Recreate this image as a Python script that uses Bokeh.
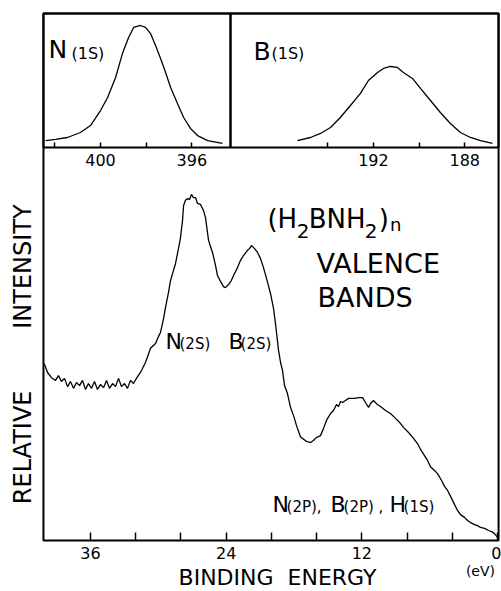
from bokeh.plotting import figure
from bokeh.models import Range1d, FixedTicker, Label, BoxAnnotation, LinearAxis
from bokeh.embed import file_html
from bokeh.resources import INLINE

FONT = "DejaVu Sans"

# ---- valence band spectrum (binding energy in eV, relative intensity) ----
vb_energy = [40.10, 39.80, 39.45, 39.10, 38.83, 38.57, 38.30, 38.03, 37.77, 37.50,
             37.24, 36.97, 36.71, 36.44, 36.18, 35.91, 35.65, 35.38, 35.12, 34.85,
             34.58, 34.32, 34.05, 33.79, 33.52, 33.26, 32.99, 32.73, 32.46, 32.20,
             31.84, 31.58, 31.14, 30.69, 30.25, 29.99, 29.81, 29.54, 29.37, 29.10,
             28.92, 28.66, 28.48, 28.22, 28.04, 27.86, 27.77, 27.60, 27.42, 27.24,
             27.07, 26.89, 26.71, 26.54, 26.27, 26.01, 25.83, 25.56, 25.39, 25.21,
             24.94, 24.77, 24.50, 24.24, 24.06, 23.79, 23.53, 23.35, 23.00, 22.73,
             22.47, 22.11, 21.94, 21.76, 21.49, 21.23, 20.96, 20.70, 20.43, 20.08,
             19.81, 19.64, 19.37, 19.19, 19.02, 18.84, 18.58, 18.31, 18.04, 17.78,
             17.43, 17.25, 16.90, 16.54, 16.28, 16.01, 15.83, 15.66, 15.39, 15.13,
             14.77, 14.51, 14.24, 14.06, 13.89, 13.71, 13.45, 13.18, 13.00, 12.65,
             12.30, 11.94, 11.68, 11.41, 11.23, 10.97, 10.62, 10.26, 9.91, 9.47,
             9.02, 8.58, 8.32, 7.87, 7.43, 7.08, 6.81, 6.46, 6.19, 5.93,
             5.57, 5.31, 4.95, 4.69, 4.42, 4.16, 3.80, 3.54, 3.27, 2.92,
             2.65, 2.39, 2.04, 1.77, 1.51, 1.15, 0.80, 0.53, 0.27, 0.00]
vb_intensity = [51.3, 48.7, 47.2, 46.4, 47.8, 46.1, 47.0, 44.6, 46.1, 44.1,
                45.8, 44.9, 46.4, 43.8, 45.5, 44.1, 46.1, 43.8, 45.2, 44.3,
                46.4, 44.1, 45.5, 44.6, 47.0, 44.6, 45.5, 44.1, 46.4, 45.5,
                47.5, 48.7, 51.6, 55.7, 57.1, 59.1, 60.3, 64.3, 67.5, 71.9,
                75.4, 78.3, 80.3, 84.6, 87.8, 92.8, 97.1, 98.6, 99.1, 98.8,
                100.3, 99.4, 99.4, 97.7, 97.4, 95.7, 93.6, 87.0, 85.2, 83.5,
                79.7, 76.8, 75.1, 73.6, 73.3, 74.2, 75.4, 76.8, 79.1, 81.2,
                82.6, 84.1, 84.6, 85.5, 84.6, 83.5, 81.7, 79.1, 75.9, 71.6,
                67.2, 62.9, 55.1, 51.6, 49.3, 44.9, 42.6, 38.6, 36.2, 33.3,
                30.1, 29.6, 28.7, 28.4, 29.0, 29.9, 30.1, 30.4, 32.5, 34.8,
                36.8, 37.7, 39.4, 38.8, 40.3, 40.0, 40.6, 41.2, 41.2, 41.2,
                41.4, 41.4, 40.0, 38.6, 39.7, 40.6, 39.4, 38.6, 37.7, 36.8,
                35.4, 33.9, 32.8, 31.3, 29.6, 28.1, 26.4, 24.6, 23.2, 21.4,
                20.3, 19.4, 17.4, 15.7, 14.5, 12.8, 10.4, 8.7, 7.5, 6.7,
                5.8, 5.2, 4.6, 4.3, 3.8, 3.5, 2.9, 2.6, 2.0, 0.9]

# ---- N(1s) core level ----
n1s_energy = [402.41, 401.97, 401.45, 400.88, 400.44, 400.00, 399.69, 399.34,
              399.04, 398.77, 398.55, 398.25, 398.03, 397.81, 397.59, 397.37,
              397.15, 396.93, 396.63, 396.36, 396.06, 395.75, 395.31, 394.66]
n1s_intensity = [5.7, 6.6, 8.2, 12.3, 18.0, 30.3, 41.0, 57.4, 77.0, 90.2, 98.4, 100.0,
                 98.4, 93.4, 83.6, 73.0, 61.5, 49.2, 36.1, 24.6, 15.6, 9.8, 5.7, 3.3]

# ---- B(1s) core level ----
b1s_energy = [195.33, 194.76, 194.32, 193.88, 193.45, 193.01, 192.57, 192.22,
              191.82, 191.56, 191.26, 190.95, 190.69, 190.29, 189.94, 189.50,
              189.07, 188.63, 188.19, 187.75, 187.31, 186.79]
b1s_intensity = [5.7, 8.2, 11.5, 16.4, 24.6, 34.4, 44.3, 54.9, 61.5, 64.8, 66.4,
                 65.6, 61.5, 56.6, 48.4, 38.5, 28.7, 19.7, 12.3, 8.2, 5.7, 3.3]

# ---- ticks ----
main_major_ticks = [36, 24, 12, 0]
main_minor_ticks = [32, 28, 20, 16, 8, 4]
n_ticks = [402, 400, 398, 396]
n_tick_labels = ["", "400", "", "396"]
b_ticks = [194, 192, 190, 188]
b_tick_labels = ["", "192", "", "188"]

# ---- panel extents (layout, in each panel's own units) ----
MAIN_BOX = dict(left=40.16, right=-0.09, bottom=0.0, top=152.75)
N_BOX = dict(left=402.50, right=394.31, bottom=0.0, top=109.84)
B_BOX = dict(left=198.26, right=186.52, bottom=0.0, top=109.84)

# ---- figure: the frame fills the whole canvas, everything drawn inside it ----
p = figure(width=501, height=591, output_backend="svg", toolbar_location=None,
           title=None,
           x_range=Range1d(43.96, -0.35), y_range=Range1d(-14.78, 156.52),
           min_border_left=0, min_border_right=0, min_border_top=0,
           min_border_bottom=0)
p.extra_x_ranges = {"N": Range1d(404.38, 382.44), "B": Range1d(208.34, 186.39)}
p.extra_y_ranges = {"inset": Range1d(-363.93, 120.49)}

p.background_fill_color = "white"
p.border_fill_color = "white"
p.outline_line_color = None
p.xgrid.visible = False
p.ygrid.visible = False
p.yaxis.visible = False

xa = p.xaxis[0]
xa.fixed_location = 0
xa.ticker = FixedTicker(ticks=main_major_ticks, minor_ticks=main_minor_ticks)
xa.axis_line_color = None
xa.major_tick_in = 8
xa.major_tick_out = 0
xa.minor_tick_in = 8
xa.minor_tick_out = 0
xa.major_tick_line_width = 1.5
xa.minor_tick_line_width = 1.5
xa.major_tick_line_color = "black"
xa.minor_tick_line_color = "black"
xa.major_label_text_font = FONT
xa.major_label_text_font_size = "16px"
xa.major_label_text_color = "black"
xa.major_label_standoff = 6

for rname, ticks, labels in (("N", n_ticks, n_tick_labels), ("B", b_ticks, b_tick_labels)):
    ax = LinearAxis(x_range_name=rname, y_range_name="inset", fixed_location=0,
                    ticker=FixedTicker(ticks=ticks, minor_ticks=[]),
                    major_label_overrides={t: s for t, s in zip(ticks, labels)},
                    major_tick_in=5, major_tick_out=0,
                    minor_tick_in=0, minor_tick_out=0,
                    axis_line_color=None,
                    major_tick_line_width=1.5, major_tick_line_color="black",
                    major_label_text_font=FONT, major_label_text_font_size="16px",
                    major_label_text_color="black", major_label_standoff=7)
    p.add_layout(ax, "below")

# panel boxes
p.add_layout(BoxAnnotation(**MAIN_BOX, fill_alpha=0, line_color="black",
                           line_width=2, line_alpha=1))
p.add_layout(BoxAnnotation(**N_BOX, x_range_name="N", y_range_name="inset",
                           fill_alpha=0, line_color="black", line_width=2, line_alpha=1))
p.add_layout(BoxAnnotation(**B_BOX, x_range_name="B", y_range_name="inset",
                           fill_alpha=0, line_color="black", line_width=2, line_alpha=1))

# ---- curves ----
p.line(vb_energy, vb_intensity, line_color="black", line_width=1.3)
p.line(n1s_energy, n1s_intensity, x_range_name="N", y_range_name="inset",
       line_color="black", line_width=1.3)
p.line(b1s_energy, b1s_intensity, x_range_name="B", y_range_name="inset",
       line_color="black", line_width=1.3)


def lab(x, y, text, size, align="left", angle=0):
    p.add_layout(Label(x=x, y=y, text=text, text_font=FONT, text_font_size=size,
                       text_color="black", text_align=align, text_baseline="middle",
                       angle=angle))


# core-level panel titles
lab(39.71, 142.18, "N", "25px")
lab(37.68, 141.28, "(1S)", "16px")
lab(21.58, 141.74, "B", "25px")
lab(19.99, 141.30, "(1S)", "16px")

# compound formula (H2BNH2)n built from normal and lowered pieces
lab(20.35, 93.33, "(H", "26px")
lab(17.75, 89.71, "2", "20px")
lab(16.70, 93.33, "BNH", "26px")
lab(11.75, 89.71, "2", "20px")
lab(10.50, 93.33, ")", "26px")
lab(9.52, 91.60, "n", "18px")

lab(16.01, 80.29, "VALENCE", "27px")
lab(15.92, 70.58, "BANDS", "27px")

# peak assignments
lab(29.37, 57.68, "N", "22px")
lab(28.13, 56.96, "(2S)", "15px")
lab(23.79, 57.68, "B", "22px")
lab(22.73, 56.96, "(2S)", "15px")

lab(19.90, 10.58, "N", "22px")
lab(18.66, 9.71, "(2P),", "15px")
lab(14.77, 10.58, "B", "22px")
lab(13.62, 9.71, "(2P) ,", "15px")
lab(9.55, 10.58, "H", "22px")
lab(8.31, 9.71, "(1S)", "15px")

# axis titles
lab(41.97, 79.4, "INTENSITY", "24px", align="center", angle=1.5708)
lab(41.93, 27.0, "RELATIVE", "24px", align="center", angle=1.5708)
lab(19.46, -10.72, "BINDING\u00a0\u00a0ENERGY", "22px", align="center")
lab(1.51, -8.7, "(eV)", "14px", align="center")

open("out.html", "w").write(file_html(p, INLINE))
